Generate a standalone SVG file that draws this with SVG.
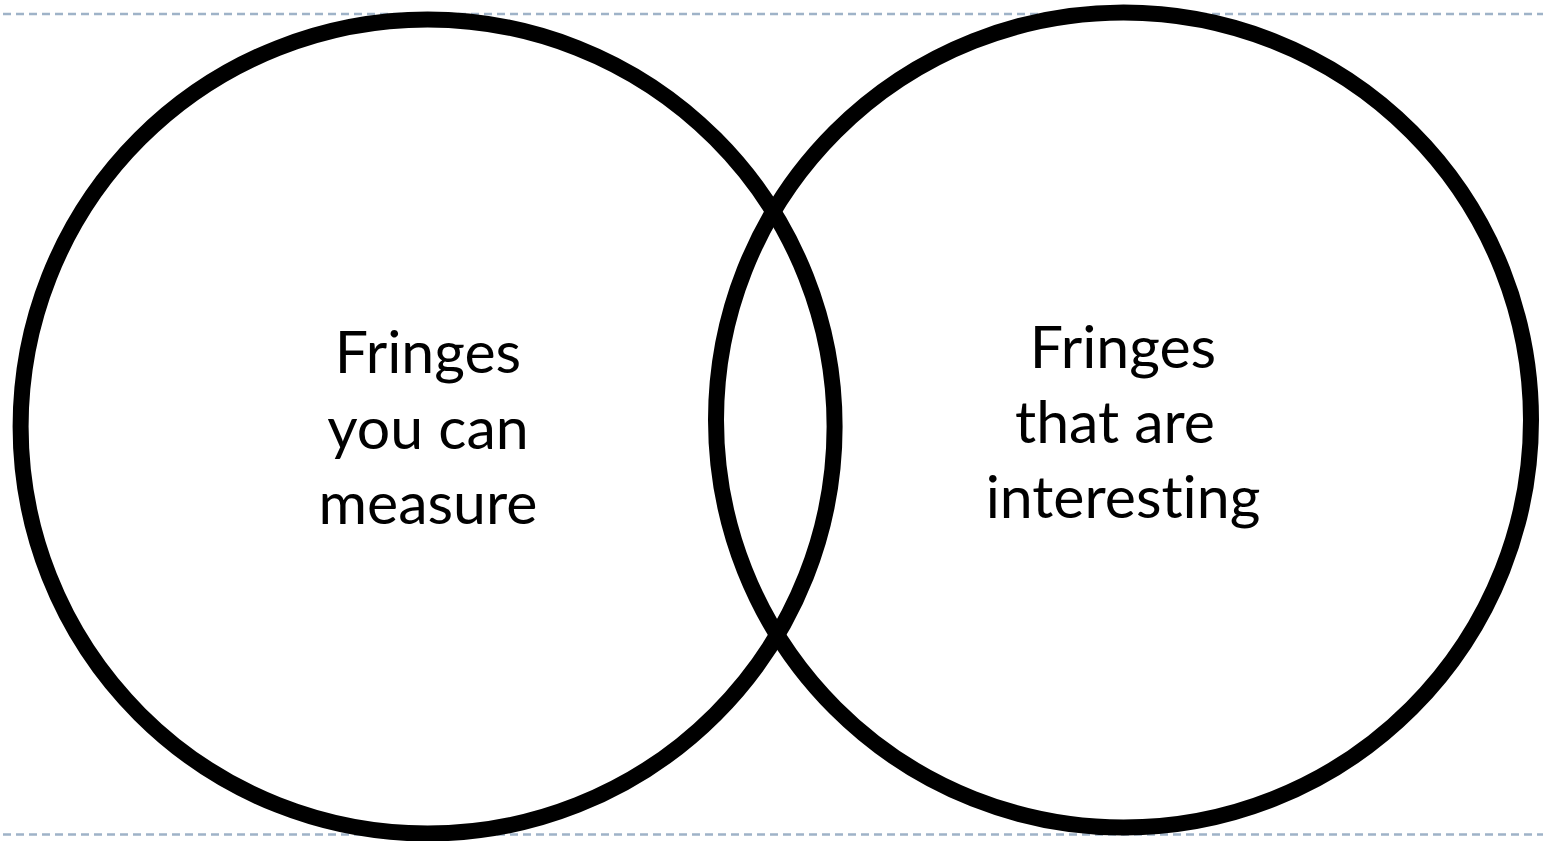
<svg xmlns="http://www.w3.org/2000/svg" width="1543" height="841" viewBox="0 0 1543 841">
  <style>
    .guide { stroke: #9fb3c8; stroke-width: 2.5; stroke-dasharray: 8 5; fill: none; }
    .ring { fill: none; stroke: #000; stroke-width: 16; }
    .label { font-family: "Lato", "Open Sans", "Liberation Sans", sans-serif; font-size: 59px; fill: #000; text-anchor: middle; font-variant-ligatures: none; }
  </style>
  <rect width="1543" height="841" fill="#fff"/>
  <g id="guides">
    <line class="guide" x1="3" y1="14" x2="1543" y2="14"/>
    <line class="guide" x1="3" y1="834.5" x2="1543" y2="834.5"/>
  </g>
  <g id="measurable">
    <circle class="ring" cx="427.6" cy="426.5" r="407"/>
    <text class="label" x="428" y="373">Fringes</text>
    <text class="label" x="428" y="449">you can</text>
    <text class="label" x="428" y="524">measure</text>
  </g>
  <g id="interesting">
    <circle class="ring" cx="1123.5" cy="420" r="407.5"/>
    <text class="label" x="1123" y="368">Fringes</text>
    <text class="label" x="1115" y="443">that are</text>
    <text class="label" x="1123" y="518">interesting</text>
  </g>
</svg>
